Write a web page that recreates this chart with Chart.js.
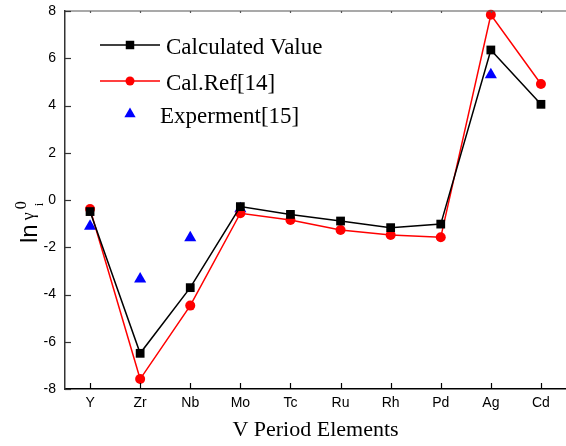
<!DOCTYPE html>
<html>
<head>
<meta charset="utf-8">
<script src="https://cdn.jsdelivr.net/npm/chart.js@4/dist/chart.umd.min.js"></script>
<style>
html,body{margin:0;padding:0;background:#fff;}
#wrap{width:566px;height:446px;}
</style>
</head>
<body>
<div id="wrap"><canvas id="c" width="566" height="446"></canvas></div>
<script>
const elements = ['Y','Zr','Nb','Mo','Tc','Ru','Rh','Pd','Ag','Cd'];
const calculatedValue = [-0.49, -6.49, -3.71, -0.28, -0.61, -0.89, -1.17, -1.02, 6.35, 4.05];
const calRef14 = [-0.38, -7.58, -4.47, -0.56, -0.85, -1.27, -1.48, -1.58, 7.84, 4.91];
const experiment15 = [-1.11, -3.34, -1.60, -0.37, null, null, null, null, 5.30, null];
const yTicks = [-8, -6, -4, -2, 0, 2, 4, 6, 8];

const frame = {
  id: 'frame',
  afterDraw(chart) {
    const {ctx, chartArea: a, scales: {x, y}} = chart;
    ctx.save();
    // top border
    ctx.strokeStyle = '#555';
    ctx.lineWidth = 1.2;
    ctx.beginPath();
    ctx.moveTo(a.left, a.top); ctx.lineTo(a.right, a.top);
    ctx.stroke();
    // inward ticks on left axis
    ctx.strokeStyle = '#333';
    ctx.lineWidth = 1.2;
    yTicks.forEach(v => {
      const py = Math.round(y.getPixelForValue(v)) + 0.5;
      ctx.beginPath(); ctx.moveTo(a.left, py); ctx.lineTo(a.left + 6, py); ctx.stroke();
    });
    // inward ticks on bottom axis and small ticks on top
    elements.forEach((e, i) => {
      const px = Math.round(x.getPixelForValue(i)) + 0.5;
      ctx.strokeStyle = '#000';
      ctx.beginPath(); ctx.moveTo(px, a.bottom); ctx.lineTo(px, a.bottom - 6); ctx.stroke();
      ctx.strokeStyle = '#555';
      ctx.beginPath(); ctx.moveTo(px, a.top); ctx.lineTo(px, a.top + 2); ctx.stroke();
    });
    // y axis title: ln γ_i^0
    ctx.translate(37, 243);
    ctx.rotate(-Math.PI / 2);
    ctx.fillStyle = '#000';
    ctx.textBaseline = 'alphabetic';
    ctx.textAlign = 'left';
    ctx.font = '24px "Liberation Sans", Arial, sans-serif';
    ctx.fillText('ln', 0, 0);
    const w1 = ctx.measureText('ln').width;
    ctx.font = '18px "Liberation Serif", "Times New Roman", serif';
    ctx.fillText('γ', w1 + 4, -3);
    const w2 = ctx.measureText('γ').width;
    ctx.font = '16px "Liberation Serif", "Times New Roman", serif';
    ctx.fillText('0', w1 + 4 + w2 + 3, -11);
    ctx.font = '13px "Liberation Serif", "Times New Roman", serif';
    ctx.fillText('i', w1 + 4 + w2 + 6, 6);
    ctx.restore();

    // legend
    ctx.save();
    const rows = [
      {ds: 0, y: 45, tx: 166, line: true},
      {ds: 1, y: 81, tx: 166, line: true},
      {ds: 2, y: 114, tx: 160, line: false}
    ];
    rows.forEach(r => {
      const d = chart.data.datasets[r.ds];
      if (r.line) {
        ctx.strokeStyle = d.borderColor;
        ctx.lineWidth = 1.5;
        ctx.beginPath(); ctx.moveTo(100, r.y); ctx.lineTo(160, r.y); ctx.stroke();
      }
      ctx.fillStyle = d.pointBackgroundColor;
      ctx.beginPath();
      if (d.pointStyle === 'rect') {
        const s = d.legendRadius * Math.SQRT1_2;
        ctx.rect(130 - s, r.y - s, 2 * s, 2 * s);
      } else if (d.pointStyle === 'circle') {
        ctx.arc(130, r.y, d.legendRadius, 0, Math.PI * 2);
      } else {
        const R = d.legendRadius;
        ctx.moveTo(130, r.y - R);
        ctx.lineTo(130 + R * Math.sin(2 * Math.PI / 3), r.y + R / 2);
        ctx.lineTo(130 - R * Math.sin(2 * Math.PI / 3), r.y + R / 2);
        ctx.closePath();
      }
      ctx.fill();
      ctx.fillStyle = '#000';
      ctx.font = '23px "Liberation Serif", "Times New Roman", serif';
      ctx.textBaseline = 'alphabetic';
      ctx.fillText(d.label, r.tx, r.y + 9);
    });
    ctx.restore();
  }
};

new Chart(document.getElementById('c'), {
  type: 'line',
  data: {
    labels: elements,
    datasets: [
      {
        label: 'Calculated Value',
        data: calculatedValue,
        borderColor: '#000000',
        backgroundColor: '#000000',
        pointBackgroundColor: '#000000',
        pointBorderColor: '#000000',
        pointStyle: 'rect',
        pointRadius: 6.2,
        legendRadius: 6,
        borderWidth: 1.5,
        pointBorderWidth: 0,
        tension: 0,
        clip: false
      },
      {
        label: 'Cal.Ref[14]',
        data: calRef14,
        borderColor: '#ff0000',
        backgroundColor: '#ff0000',
        pointBackgroundColor: '#ff0000',
        pointBorderColor: '#ff0000',
        pointStyle: 'circle',
        pointRadius: 5,
        legendRadius: 4.5,
        borderWidth: 1.5,
        pointBorderWidth: 0,
        tension: 0,
        clip: false
      },
      {
        label: 'Experment[15]',
        data: experiment15,
        showLine: false,
        borderColor: '#0000ff',
        backgroundColor: '#0000ff',
        pointBackgroundColor: '#0000ff',
        pointBorderColor: '#0000ff',
        pointStyle: 'triangle',
        pointRadius: 7,
        legendRadius: 6.5,
        pointBorderWidth: 0,
        clip: false
      }
    ]
  },
  options: {
    responsive: false,
    animation: false,
    devicePixelRatio: 1,
    layout: {autoPadding: false, padding: {left: 0, right: 0, top: 11, bottom: 0}},
    plugins: {legend: {display: false}, tooltip: {enabled: false}},
    scales: {
      x: {
        type: 'category',
        offset: true,
        grid: {display: false, drawTicks: false},
        border: {display: true, color: '#000', width: 1.5},
        ticks: {
          color: '#000',
          padding: 6,
          font: {family: '"Liberation Sans", Arial, sans-serif', size: 14},
          maxRotation: 0,
          autoSkip: false
        },
        title: {
          display: true,
          text: 'V Period Elements',
          color: '#000',
          font: {family: '"Liberation Serif", "Times New Roman", serif', size: 22},
          padding: {top: 0, bottom: 3}
        },
        afterFit(s) { s.height = 57; s.paddingLeft = 0; s.paddingRight = 0; }
      },
      y: {
        min: -8,
        max: 8,
        grid: {display: false, drawTicks: false},
        border: {display: true, color: '#333', width: 1.5},
        ticks: {
          stepSize: 2,
          color: '#000',
          padding: 9,
          font: {family: '"Liberation Sans", Arial, sans-serif', size: 14}
        },
        afterFit(s) { s.width = 65; s.paddingTop = 0; s.paddingBottom = 0; }
      }
    }
  },
  plugins: [frame]
});
</script>
</body>
</html>
